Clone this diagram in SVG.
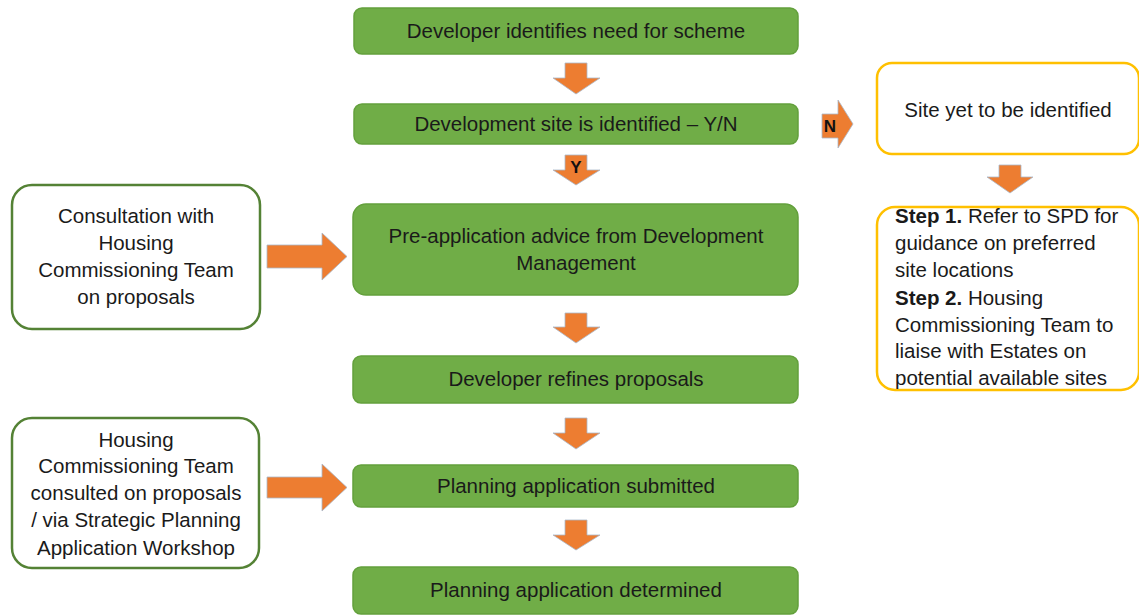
<svg xmlns="http://www.w3.org/2000/svg" width="1139" height="616" viewBox="0 0 1139 616">
<style>
  text { font-family: "Liberation Sans", Arial, sans-serif; font-size: 20.5px; fill: #1a1a1a; }
  .c { text-anchor: middle; }
  .b { font-weight: bold; }
  .green { fill: #70AD47; stroke: #63A03C; stroke-width: 1.5; }
  .outG { fill: #FFFFFF; stroke: #548235; stroke-width: 2.5; }
  .outY { fill: #FFFFFF; stroke: #FFC000; stroke-width: 2.5; }
  .arr { fill: #ED7D31; stroke: #A9B7C9; stroke-width: 0.8; }
  .lbl { font-size: 17px; font-weight: bold; fill: #111; }
</style>
<rect width="1139" height="616" fill="#FFFFFF"/>

<g id="connectors">
  <polygon class="arr" points="565,63 587,63 587,78 600,78 576,94 553,78 565,78"/>
  <polygon class="arr" points="565,155 587,155 587,170 600,170 576,185 553,170 565,170"/>
  <text class="lbl c" x="576" y="173">Y</text>
  <polygon class="arr" points="822,114 838,114 838,100 853,124 838,148 838,138 822,138"/>
  <text class="lbl c" x="830" y="132">N</text>
  <polygon class="arr" points="565,313 587,313 587,327 600,327 576,343 553,327 565,327"/>
  <polygon class="arr" points="565,418 587,418 587,433 600,433 576,449 553,433 565,433"/>
  <polygon class="arr" points="565,520 587,520 587,535 600,535 576,550 553,535 565,535"/>
  <polygon class="arr" points="999,165 1021,165 1021,177 1033,177 1010,193 987,177 999,177"/>
  <polygon class="arr" points="267,245 322,245 322,233 347,256.5 322,280 322,268 267,268"/>
  <polygon class="arr" points="267,477 322,477 322,464 347,487.5 322,511 322,498 267,498"/>
</g>

<g id="n1">
  <rect class="green" x="354" y="8" width="444" height="46" rx="8"/>
  <text class="c" x="576" y="38">Developer identifies need for scheme</text>
</g>
<g id="n2">
  <rect class="green" x="354" y="104" width="444" height="40" rx="8"/>
  <text class="c" x="576" y="131">Development site is identified – Y/N</text>
</g>
<g id="n3">
  <rect class="green" x="353" y="204" width="445" height="91" rx="13"/>
  <text class="c" x="576" y="243">Pre-application advice from Development</text>
  <text class="c" x="576" y="270">Management</text>
</g>
<g id="n4">
  <rect class="green" x="353" y="356" width="445" height="47" rx="8"/>
  <text class="c" x="576" y="386">Developer refines proposals</text>
</g>
<g id="n5">
  <rect class="green" x="353" y="465" width="445" height="42" rx="8"/>
  <text class="c" x="576" y="493">Planning application submitted</text>
</g>
<g id="n6">
  <rect class="green" x="353" y="567" width="445" height="47" rx="8"/>
  <text class="c" x="576" y="597">Planning application determined</text>
</g>

<g id="left1">
  <rect class="outG" x="12" y="185" width="248" height="144" rx="20"/>
  <text class="c" x="136" y="223">Consultation with</text>
  <text class="c" x="136" y="250">Housing</text>
  <text class="c" x="136" y="277">Commissioning Team</text>
  <text class="c" x="136" y="304">on proposals</text>
</g>
<g id="left2">
  <rect class="outG" x="12" y="418" width="247" height="150" rx="20"/>
  <text class="c" x="136" y="447">Housing</text>
  <text class="c" x="136" y="473">Commissioning Team</text>
  <text class="c" x="136" y="500">consulted on proposals</text>
  <text class="c" x="136" y="527">/ via Strategic Planning</text>
  <text class="c" x="136" y="555">Application Workshop</text>
</g>

<g id="site">
  <rect class="outY" x="877" y="63" width="262" height="91" rx="15"/>
  <text class="c" x="1008" y="117">Site yet to be identified</text>
</g>
<g id="steps">
  <rect class="outY" x="877" y="207" width="262" height="183" rx="18"/>
  <text x="895" y="223"><tspan class="b">Step 1.</tspan> Refer to SPD for</text>
  <text x="895" y="250">guidance on preferred</text>
  <text x="895" y="277">site locations</text>
  <text x="895" y="305"><tspan class="b">Step 2.</tspan> Housing</text>
  <text x="895" y="332">Commissioning Team to</text>
  <text x="895" y="358">liaise with Estates on</text>
  <text x="895" y="385">potential available sites</text>
</g>
</svg>
